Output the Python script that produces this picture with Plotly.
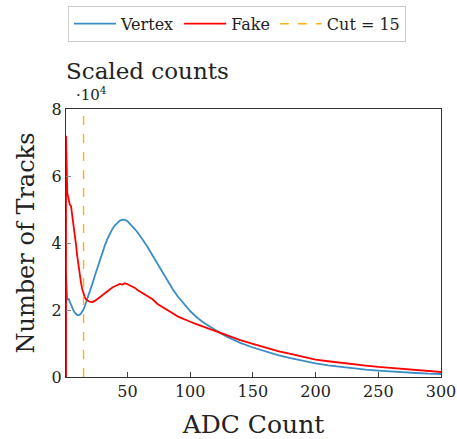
import plotly.graph_objects as go

adc = [1, 1, 2, 3, 4, 5, 6, 7, 8, 9, 10, 11, 12, 13, 14, 15, 16, 17, 18, 19, 20,
       22, 24, 26, 28, 30, 32, 34, 36, 38, 40, 42, 44, 46, 48, 50, 52, 54, 56, 58,
       60, 63, 66, 70, 74, 78, 82, 86, 90, 95, 100, 105, 110, 115, 120, 125, 130,
       140, 150, 160, 170, 180, 190, 200, 210, 220, 230, 240, 250, 260, 270, 280,
       290, 300]

vertex = [0, 3.1, 2.3, 2.35, 2.25, 2.15, 2.05, 1.98, 1.92, 1.88, 1.85, 1.85, 1.86,
          1.9, 1.95, 2.02, 2.12, 2.22, 2.33, 2.44, 2.55,
          2.78, 3.02, 3.26, 3.5, 3.72, 3.93, 4.12, 4.28, 4.42, 4.53, 4.61, 4.67,
          4.7, 4.69, 4.65, 4.58, 4.5, 4.41, 4.32,
          4.22, 4.05, 3.88, 3.63, 3.36, 3.1, 2.86, 2.63, 2.41, 2.18, 1.97, 1.79,
          1.64, 1.52, 1.4, 1.29, 1.19,
          1.02, 0.88, 0.76, 0.65, 0.56, 0.48, 0.41, 0.35, 0.3, 0.26, 0.22, 0.19,
          0.16, 0.14, 0.12, 0.1, 0.09]

fake = [0, 7.2, 5.5, 5.3, 5.15, 5.1, 4.85, 4.55, 4.3, 3.95, 3.6, 3.3, 3.02, 2.8,
        2.62, 2.48, 2.38, 2.32, 2.28, 2.26, 2.25,
        2.24, 2.27, 2.32, 2.38, 2.44, 2.5, 2.56, 2.62, 2.67, 2.71, 2.75, 2.78,
        2.76, 2.8, 2.77, 2.74, 2.71, 2.66, 2.6,
        2.55, 2.48, 2.42, 2.32, 2.18, 2.08, 1.98, 1.9, 1.81, 1.72, 1.65, 1.58,
        1.51, 1.44, 1.37, 1.3, 1.23,
        1.1, 0.99, 0.88, 0.77, 0.69, 0.6, 0.52, 0.47, 0.42, 0.38, 0.34, 0.3,
        0.27, 0.23, 0.2, 0.18, 0.15]

CUT = 15
x_ticks = [50, 100, 150, 200, 250, 300]
y_ticks = [0, 2, 4, 6, 8]

FONT = "DejaVu Serif"
BLUE = "#3a8dc5"
RED = "#ff0000"
ORANGE = "#ffae1a"

fig = go.Figure()
fig.add_trace(go.Scatter(x=adc, y=vertex, mode="lines", name="Vertex",
                         line=dict(color=BLUE, width=1.8)))
fig.add_trace(go.Scatter(x=adc, y=fake, mode="lines", name="Fake",
                         line=dict(color=RED, width=1.8)))
fig.add_trace(go.Scatter(x=[None], y=[None], mode="lines", name=f"Cut = {CUT}",
                         line=dict(color=ORANGE, width=1.4, dash="dash")))
fig.add_vline(x=CUT, line=dict(color=ORANGE, width=1.4, dash="dash"))

fig.update_layout(
    width=457, height=439,
    margin=dict(l=66, r=16, t=109, b=62, autoexpand=False),
    paper_bgcolor="white", plot_bgcolor="white",
    font=dict(family=FONT, color="#222", size=16),
    showlegend=True,
    legend=dict(orientation="h", x=0.456, xanchor="center", y=1.385, yanchor="top",
                bordercolor="#cccccc", borderwidth=1, font=dict(size=16, family=FONT),
                itemwidth=42, tracegroupgap=0),
    xaxis=dict(range=[1, 300], tickvals=x_ticks, ticks="inside", ticklen=5,
               tickcolor="#444", showgrid=False, zeroline=False, automargin=False,
               showline=True, linecolor="#333", linewidth=1.2, mirror=True,
               tickfont=dict(size=16, family=FONT),
               title=dict(text="ADC Count", font=dict(size=25, family=FONT), standoff=16)),
    yaxis=dict(range=[0, 8], tickvals=y_ticks, ticks="inside", ticklen=5,
               tickcolor="#888", showgrid=False, zeroline=False, automargin=False,
               showline=True, linecolor="#333", linewidth=1.2, mirror=True,
               tickfont=dict(size=16, family=FONT),
               title=dict(text="Number of Tracks", font=dict(size=24, family=FONT), standoff=10)),
)

fig.add_annotation(text="Scaled counts", xref="paper", yref="paper", x=-0.005, y=1.085,
                   xanchor="left", yanchor="bottom", showarrow=False,
                   font=dict(size=23, family=FONT, color="#222"))
fig.add_annotation(text="·10<sup>4</sup>", xref="paper", yref="paper", x=0.02, y=1.012,
                   xanchor="left", yanchor="bottom", showarrow=False,
                   font=dict(size=15, family=FONT, color="#222"))

fig.write_html("out.html", config={"displayModeBar": False},
               post_script="document.body.style.margin='0';document.body.style.overflow='hidden';")
